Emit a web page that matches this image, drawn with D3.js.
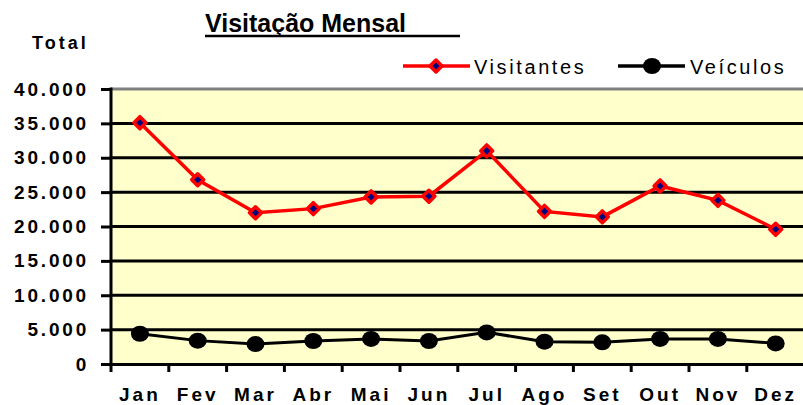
<!DOCTYPE html>
<html>
<head>
<meta charset="utf-8">
<script src="https://cdn.jsdelivr.net/npm/d3@7"></script>
<style>
  body { margin: 0; background: #fff; }
  text { font-family: "Liberation Sans", Arial, sans-serif; }
</style>
</head>
<body>
<div id="chart"></div>
<script>
var months = ["Jan", "Fev", "Mar", "Abr", "Mai", "Jun", "Jul", "Ago", "Set", "Out", "Nov", "Dez"];
var visitantes = [35100, 26800, 22000, 22600, 24300, 24400, 31000, 22200, 21400, 25900, 23800, 19600];
var veiculos = [4400, 3400, 2900, 3350, 3650, 3350, 4600, 3250, 3150, 3650, 3650, 3000];
var yTicks = [0, 5000, 10000, 15000, 20000, 25000, 30000, 35000, 40000];

var width = 803, height = 405;
var margin = {top: 89, left: 111, bottom: 364};
var band = 57.8;

var svg = d3.select("#chart").append("svg")
    .attr("width", width)
    .attr("height", height);

var x = d3.scaleBand()
    .domain(months)
    .range([margin.left, margin.left + band * months.length]);

var y = d3.scaleLinear()
    .domain([0, 40000])
    .range([margin.bottom, margin.top]);

var fmt = d3.formatLocale({decimal: ",", thousands: ".", grouping: [3], currency: ["", ""]}).format(",.0f");

// plot background
svg.append("rect")
    .attr("x", x.range()[0])
    .attr("y", y(40000))
    .attr("width", x.range()[1] - x.range()[0])
    .attr("height", y(0) - y(40000))
    .attr("fill", "#ffffcc");

// gridlines
svg.append("g")
    .selectAll("line")
    .data(yTicks.filter(function(d) { return d > 0 && d < 40000; }))
    .enter().append("line")
    .attr("x1", x.range()[0])
    .attr("x2", x.range()[1])
    .attr("y1", function(d) { return y(d); })
    .attr("y2", function(d) { return y(d); })
    .attr("stroke", "#000")
    .attr("stroke-width", 3);

// top border
svg.append("line")
    .attr("x1", x.range()[0])
    .attr("x2", x.range()[1])
    .attr("y1", y(40000))
    .attr("y2", y(40000))
    .attr("stroke", "#808080")
    .attr("stroke-width", 3);

// y axis
var yAxis = svg.append("g")
    .attr("transform", "translate(" + margin.left + ",0)")
    .call(d3.axisLeft(y).tickValues(yTicks).tickFormat(fmt).tickSize(10).tickPadding(12));
yAxis.select(".domain").attr("stroke-width", 3).attr("d", "M0," + (y(0) + 1.5) + "V" + (y(40000) - 1.5));
yAxis.selectAll(".tick line").attr("stroke-width", 3);
yAxis.selectAll(".tick text")
    .attr("font-size", 19)
    .attr("font-weight", "bold")
    .attr("letter-spacing", 2.8)
    .attr("fill", "#000");

// x axis
var xAxis = svg.append("g")
    .attr("transform", "translate(0," + margin.bottom + ")")
    .call(d3.axisBottom(x).tickSize(0).tickPadding(24));
xAxis.select(".domain").attr("stroke-width", 3);
xAxis.selectAll(".tick text")
    .attr("font-size", 19)
    .attr("font-weight", "bold")
    .attr("letter-spacing", 3)
    .attr("fill", "#000");
xAxis.selectAll(".sep")
    .data(months)
    .enter().append("line")
    .attr("class", "sep")
    .attr("x1", function(d) { return x(d); })
    .attr("x2", function(d) { return x(d); })
    .attr("y1", 0)
    .attr("y2", 8)
    .attr("stroke", "#000")
    .attr("stroke-width", 3);

var line = d3.line()
    .x(function(d, i) { return x(months[i]) + x.bandwidth() / 2; })
    .y(function(d) { return y(d); });

// veiculos
svg.append("path")
    .datum(veiculos)
    .attr("fill", "none")
    .attr("stroke", "#000")
    .attr("stroke-width", 3)
    .attr("d", line);
svg.append("g").selectAll("ellipse")
    .data(veiculos)
    .enter().append("ellipse")
    .attr("cx", function(d, i) { return x(months[i]) + x.bandwidth() / 2; })
    .attr("cy", function(d) { return y(d); })
    .attr("rx", 9)
    .attr("ry", 8)
    .attr("fill", "#000");

// visitantes
svg.append("path")
    .datum(visitantes)
    .attr("fill", "none")
    .attr("stroke", "#ff0000")
    .attr("stroke-width", 3.5)
    .attr("d", line);
var diamond = "M0,-6L6,0L0,6L-6,0Z";
svg.append("g").selectAll("path")
    .data(visitantes)
    .enter().append("path")
    .attr("transform", function(d, i) { return "translate(" + (x(months[i]) + x.bandwidth() / 2) + "," + y(d) + ")"; })
    .attr("d", diamond)
    .attr("fill", "#000080")
    .attr("stroke", "#ff0000")
    .attr("stroke-width", 3.5)
    .attr("stroke-linejoin", "round");

// title
svg.append("text")
    .attr("x", 205)
    .attr("y", 32)
    .attr("font-size", 25)
    .attr("font-weight", "bold")
    .attr("fill", "#000")
    .text("Visitação Mensal");
svg.append("line")
    .attr("x1", 205)
    .attr("x2", 460)
    .attr("y1", 36)
    .attr("y2", 36)
    .attr("stroke", "#000")
    .attr("stroke-width", 2.5);

svg.append("text")
    .attr("x", 32)
    .attr("y", 49)
    .attr("font-size", 18)
    .attr("font-weight", "bold")
    .attr("letter-spacing", 3)
    .attr("fill", "#000")
    .text("Total");

// legend
var legend = svg.append("g");
legend.append("line")
    .attr("x1", 403).attr("x2", 470).attr("y1", 66).attr("y2", 66)
    .attr("stroke", "#ff0000").attr("stroke-width", 3.5);
legend.append("path")
    .attr("transform", "translate(436,66)")
    .attr("d", diamond)
    .attr("fill", "#000080")
    .attr("stroke", "#ff0000")
    .attr("stroke-width", 3.5)
    .attr("stroke-linejoin", "round");
legend.append("text")
    .attr("x", 474).attr("y", 74)
    .attr("font-size", 20)
    .attr("letter-spacing", 2.6)
    .attr("fill", "#000")
    .text("Visitantes");
legend.append("line")
    .attr("x1", 618).attr("x2", 685).attr("y1", 66).attr("y2", 66)
    .attr("stroke", "#000").attr("stroke-width", 3.5);
legend.append("ellipse")
    .attr("cx", 652).attr("cy", 66).attr("rx", 9).attr("ry", 8)
    .attr("fill", "#000");
legend.append("text")
    .attr("x", 690).attr("y", 74)
    .attr("font-size", 20)
    .attr("letter-spacing", 2.6)
    .attr("fill", "#000")
    .text("Veículos");
</script>
</body>
</html>
